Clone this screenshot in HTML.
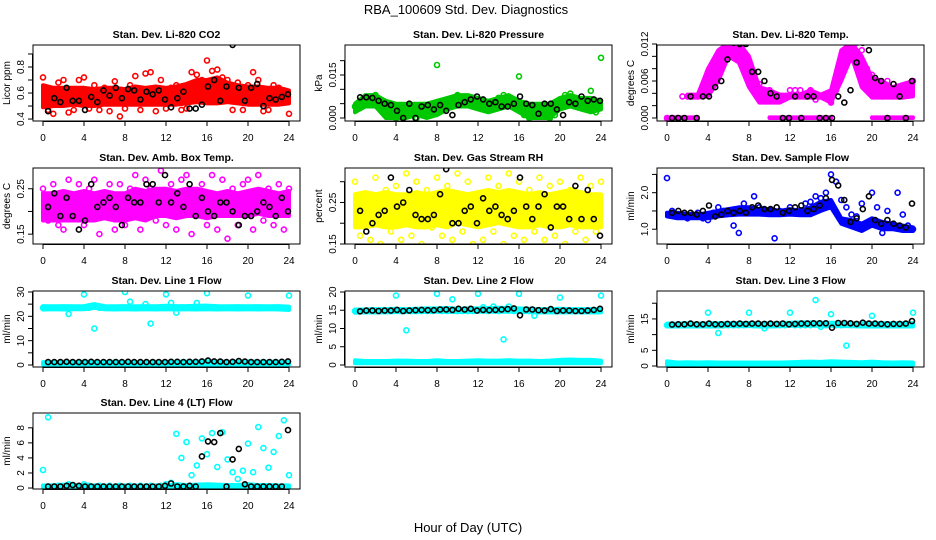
<!DOCTYPE html>
<html><head><meta charset="utf-8"><title>RBA_100609 Std. Dev. Diagnostics</title>
<style>
html,body{margin:0;padding:0;background:#fff;}
svg{display:block;font-family:"Liberation Sans",Arial,sans-serif;}
</style></head>
<body>
<svg id="chart" width="936" height="540" viewBox="0 0 936 540" xmlns="http://www.w3.org/2000/svg">
<rect x="0" y="0" width="936" height="540" fill="#fff"/>
<text x="466" y="14" font-size="13" text-anchor="middle">RBA_100609  Std. Dev. Diagnostics</text>
<text x="468" y="532" font-size="13" text-anchor="middle">Hour of Day (UTC)</text>
<g id="panels"></g>
</svg>
<script>
const hours = [0,1,2,3,4,5,6,7,8,9,10,11,12,13,14,15,16,17,18,19,20,21,22,23,24];

const co2Lo = [0.49,0.50,0.50,0.51,0.50,0.50,0.51,0.51,0.51,0.51,0.51,0.51,0.51,0.51,0.52,0.53,0.52,0.52,0.53,0.52,0.51,0.51,0.51,0.51,0.52];
const co2Hi = [0.66,0.64,0.64,0.64,0.64,0.63,0.64,0.64,0.63,0.65,0.64,0.65,0.64,0.65,0.67,0.70,0.70,0.72,0.68,0.66,0.65,0.65,0.64,0.64,0.62];
const co2Pts = [0.72,0.47,0.44,0.68,0.70,0.45,0.47,0.70,0.72,0.48,0.66,0.47,0.64,0.46,0.69,0.42,0.48,0.66,0.73,0.47,0.75,0.76,0.46,0.70,0.48,0.64,0.66,0.47,0.48,0.76,0.74,0.70,0.85,0.77,0.78,0.72,0.70,0.47,0.68,0.47,0.66,0.76,0.70,0.46,0.47,0.66,0.64,0.62,0.44];
const co2Blk = [0.46,0.56,0.53,0.64,0.54,0.54,0.47,0.57,0.53,0.62,0.58,0.64,0.56,0.63,0.62,0.55,0.61,0.59,0.62,0.55,0.49,0.56,0.61,0.48,0.48,0.51,0.65,0.70,0.54,0.65,0.97,0.64,0.54,0.64,0.67,0.50,0.56,0.55,0.57,0.59];

const presLo = [0.002,0.004,0.004,0.000,0.000,0.000,0.001,0.000,0.001,0.003,0.004,0.004,0.003,0.002,0.003,0.004,0.002,0.000,0.000,0.000,0.003,0.004,0.003,0.002,0.003];
const presHi = [0.005,0.008,0.008,0.006,0.005,0.005,0.005,0.005,0.006,0.007,0.008,0.008,0.007,0.006,0.007,0.008,0.006,0.005,0.005,0.005,0.007,0.008,0.007,0.007,0.006];
const presPts = [0.004,0.006,0.005,0.007,0.008,0.006,0.004,0.003,0.000,0.002,0.001,0.003,0.000,0.004,0.002,0.003,0.0185,0.005,0.006,0.007,0.008,0.005,0.007,0.006,0.004,0.005,0.003,0.006,0.007,0.008,0.005,0.006,0.0145,0.001,0.000,0.003,0.001,0.002,0.000,0.001,0.006,0.008,0.0085,0.007,0.006,0.005,0.0095,0.002,0.021];
const presBlk = [0.0072,0.0072,0.007,0.006,0.005,0.0045,0.0025,0.0,0.005,0.0,0.004,0.0045,0.003,0.0045,0.0025,0.001,0.0045,0.0055,0.0065,0.0075,0.0065,0.005,0.0055,0.004,0.004,0.005,0.0075,0.005,0.0045,0.0015,0.005,0.005,0.003,0.001,0.0055,0.005,0.0075,0.006,0.0065,0.006];

const tempLo = [null,null,0.0033,0.0033,0.0035,0.006,0.010,0.009,0.005,0.0025,0.0025,0.0025,0.0033,0.0033,0.0033,0.0033,0.0025,0.006,0.010,0.005,0.0033,0.0033,0.0033,0.0033,0.0035];
const tempHi = [null,null,0.0038,0.0038,0.008,0.011,0.0122,0.0122,0.010,0.005,0.0045,0.0038,0.0038,0.0038,0.0045,0.0038,0.0045,0.011,0.0122,0.010,0.0065,0.006,0.005,0.0055,0.006];
const tempZeroLo = [0,0,0,0,null,null,null,null,null,null,0,0,0,0,0,0,0,null,null,null,0,0,0,0,0];
const tempZeroHi = [0.0001,0.0001,0.0001,0.0001,null,null,null,null,null,null,0.0001,0.0001,0.0001,0.0001,0.0001,0.0001,0.0001,null,null,null,0.0001,0.0001,0.0001,0.0001,0.0001];
const tempPts = [0,0,0,0.0035,0.0035,0.0035,0.0035,0.0045,0.0075,0.008,0.0095,0.011,0.0122,0.012,0.0115,0.0105,0.008,0.0075,0.0055,0.004,0.0045,0.003,0.0035,0.0035,0.0045,0.0045,0.0045,0.0035,0.0045,0.003,0.0035,0.0035,0.0025,0.0045,0.007,0.0095,0.0115,0.0122,0.011,0.008,0.007,0.0055,0.0035,0.006,0.0035,0.0045,0.0035,0.0045,0.006];
const tempBlk = [0.0,0.0,0.0,0.0035,0.0,0.0035,0.0035,0.005,0.006,0.0095,0.0122,0.012,0.012,0.0075,0.0075,0.006,0.004,0.0035,0.0,0.0,0.0035,0.0,0.0035,0.0035,0.0,0.0,0.0,0.0035,0.0025,0.0045,0.009,0.0122,0.011,0.0065,0.006,0.0,0.0055,0.0035,0.0,0.006];

const ambLo = [0.18,0.18,0.18,0.18,0.18,0.18,0.185,0.18,0.18,0.185,0.18,0.19,0.19,0.185,0.19,0.19,0.185,0.19,0.19,0.19,0.19,0.195,0.19,0.19,0.19];
const ambHi = [0.24,0.24,0.245,0.24,0.245,0.24,0.245,0.24,0.24,0.25,0.245,0.25,0.25,0.245,0.25,0.25,0.245,0.24,0.245,0.24,0.245,0.25,0.245,0.24,0.245];
const ambPts = [0.25,0.18,0.26,0.17,0.16,0.27,0.19,0.26,0.17,0.25,0.27,0.15,0.24,0.26,0.16,0.26,0.17,0.25,0.28,0.16,0.27,0.25,0.18,0.29,0.17,0.26,0.16,0.27,0.28,0.15,0.24,0.26,0.17,0.28,0.16,0.27,0.14,0.25,0.17,0.26,0.27,0.16,0.28,0.18,0.25,0.17,0.26,0.16,0.25];
const ambBlk = [0.21,0.24,0.19,0.23,0.19,0.16,0.18,0.26,0.21,0.22,0.23,0.21,0.17,0.23,0.22,0.22,0.26,0.26,0.22,0.28,0.22,0.24,0.21,0.26,0.19,0.23,0.20,0.19,0.22,0.22,0.20,0.17,0.19,0.19,0.20,0.22,0.21,0.19,0.23,0.20];

const rhLo = [0.19,0.19,0.195,0.19,0.19,0.195,0.19,0.19,0.195,0.19,0.20,0.195,0.19,0.195,0.20,0.195,0.19,0.19,0.195,0.19,0.19,0.195,0.19,0.19,0.19];
const rhHi = [0.27,0.275,0.27,0.275,0.27,0.27,0.275,0.27,0.275,0.28,0.275,0.27,0.275,0.28,0.275,0.28,0.275,0.27,0.275,0.27,0.275,0.28,0.275,0.27,0.27];
const rhPts = [0.30,0.17,0.27,0.16,0.31,0.15,0.28,0.18,0.29,0.16,0.32,0.17,0.30,0.15,0.28,0.19,0.31,0.17,0.29,0.16,0.32,0.18,0.30,0.15,0.27,0.16,0.31,0.18,0.29,0.15,0.32,0.17,0.30,0.16,0.28,0.18,0.31,0.16,0.29,0.17,0.30,0.15,0.28,0.18,0.31,0.16,0.29,0.18,0.30];
const rhBlk = [0.23,0.18,0.20,0.22,0.23,0.31,0.24,0.25,0.28,0.22,0.21,0.21,0.22,0.27,0.33,0.20,0.20,0.23,0.24,0.20,0.26,0.23,0.24,0.22,0.21,0.23,0.31,0.24,0.21,0.24,0.27,0.19,0.24,0.24,0.21,0.29,0.21,0.28,0.21,0.17];

const flowLo = [1.35,1.3,1.3,1.3,1.3,1.35,1.38,1.4,1.4,1.4,1.38,1.38,1.4,1.38,1.38,1.5,1.6,1.15,1.05,0.95,1.1,1.0,1.0,0.95,0.95];
const flowHi = [1.45,1.45,1.42,1.4,1.45,1.5,1.55,1.6,1.6,1.55,1.55,1.5,1.55,1.5,1.6,1.75,1.8,1.3,1.25,1.15,1.3,1.2,1.15,1.1,1.05];
const flowPts = [2.4,1.5,1.4,1.35,1.3,1.4,1.45,1.3,1.25,1.45,1.6,1.5,1.5,1.1,0.9,1.7,1.55,1.9,1.6,1.5,1.45,0.75,1.5,1.45,1.6,1.45,1.5,1.7,1.75,1.9,1.85,2.0,2.5,2.3,1.8,1.6,1.4,1.35,1.7,1.1,2.0,1.6,0.9,1.5,1.05,2.0,1.4,1.1,1.0];
const flowBlk = [1.45,1.5,1.45,1.45,1.4,1.5,1.65,1.35,1.4,1.5,1.45,1.5,1.45,1.6,1.65,1.55,1.55,1.6,1.45,1.5,1.6,1.65,1.5,1.55,1.65,1.85,2.35,2.2,1.8,1.2,1.3,1.55,1.9,1.25,1.15,1.25,1.15,1.1,1.05,1.7];

const l1Lo = [22.8,22.9,22.8,22.9,22.9,23.5,22.9,22.8,22.9,22.8,22.9,22.8,22.9,22.8,22.9,22.8,22.9,22.8,22.9,22.8,22.9,22.8,22.9,22.8,22.6];
const l1Hi = [24.2,24.1,24.2,24.1,24.2,25.0,24.2,24.1,24.2,24.1,24.2,24.1,24.3,24.2,24.2,24.3,24.4,24.2,24.1,24.2,24.1,24.2,24.1,24.2,24.0];
const l1LowLo = [0.2,0.2,0.2,0.2,0.2,0.2,0.2,0.2,0.2,0.2,0.2,0.2,0.2,0.2,0.2,0.2,0.2,0.2,0.2,0.2,0.2,0.2,0.2,0.2,0.2];
const l1LowHi = [1.2,1.2,1.3,1.2,1.3,1.2,1.2,1.3,1.2,1.2,1.2,1.3,1.2,1.3,1.4,1.4,1.6,1.5,1.4,1.4,1.5,1.4,1.3,1.3,1.3];
const l1Pts = [23.5,23.5,23.5,23.5,23.5,21,23.5,23.5,29,23.5,15,23.5,23.5,23.5,23.5,23.5,30,26,23.5,23.5,25,17,23.5,23.5,29,25.5,21.5,23.5,23.5,23.5,25.5,23.5,29.5,23.5,23.5,23.5,23.5,23.5,23.5,23.5,28.5,23.5,23.5,23.5,23.5,23.5,23.5,23.5,28.5];
const l1Blk = [1.2,1.2,1.2,1.3,1.2,1.2,1.2,1.3,1.2,1.2,1.2,1.2,1.2,1.3,1.2,1.2,1.2,1.2,1.2,1.2,1.3,1.3,1.2,1.3,1.3,1.5,1.8,1.5,1.4,1.2,1.3,1.6,1.4,1.2,1.2,1.2,1.2,1.2,1.3,1.5];

const l2Lo = [14.3,14.4,14.4,14.4,14.5,14.5,14.5,14.6,14.6,14.6,14.5,14.6,14.6,14.6,14.6,14.6,14.6,14.5,14.4,14.4,14.4,14.4,14.4,14.4,14.4];
const l2Hi = [15.2,15.2,15.3,15.3,15.4,15.3,15.4,15.5,15.5,15.6,15.4,15.5,15.5,15.6,15.7,15.6,15.5,15.4,15.3,15.3,15.4,15.3,15.3,15.3,15.3];
const l2LowLo = [0.5,0.5,0.5,0.5,0.5,0.5,0.5,0.5,0.5,0.5,0.5,0.5,0.5,0.5,0.5,0.5,0.5,0.5,0.5,0.5,0.5,0.5,0.5,0.5,0.5];
const l2LowHi = [1.3,1.1,1.1,1.1,1.2,1.2,1.1,1.1,1.3,1.1,1.1,1.2,1.3,1.2,1.2,1.3,1.2,1.2,1.1,1.2,1.4,1.5,1.4,1.4,1.2];
const l2Pts = [14.8,14.8,14.8,14.8,14.8,14.8,14.8,14.8,19,14.8,9.5,14.8,14.8,14.8,14.8,14.8,19.5,14.8,14.8,18,14.8,14.8,14.8,14.8,19.5,15.8,14.8,16,14.8,7,16,14.8,19.5,14.8,14.8,13.5,14.8,14.8,14.8,14.8,18.5,14.8,14.8,14.8,14.8,14.8,14.8,14.8,19];
const l2Blk = [14.7,14.9,14.9,14.8,14.9,14.9,15.1,14.8,14.9,15.0,15.1,15.0,15.0,15.2,15.2,15.1,15.4,15.2,15.4,14.9,15.1,15.0,15.1,15.2,15.3,15.5,13.6,15.2,15.2,15.0,14.9,15.3,14.8,14.9,14.9,14.8,14.8,14.9,15.1,15.4];

const l3Lo = [12.6,12.6,12.6,12.6,12.6,12.6,12.7,12.7,12.7,12.6,12.6,12.7,12.8,12.8,12.8,12.8,12.8,12.7,12.7,12.6,12.6,12.6,12.6,12.6,12.6];
const l3Hi = [13.5,13.5,13.6,13.5,13.6,13.6,13.6,13.7,13.7,13.6,13.6,13.7,13.8,13.9,13.9,13.8,13.8,13.8,13.7,13.6,13.7,13.6,13.6,13.6,13.6];
const l3LowLo = [0.4,0.4,0.4,0.4,0.4,0.4,0.4,0.4,0.4,0.4,0.4,0.4,0.4,0.4,0.4,0.4,0.4,0.4,0.4,0.4,0.4,0.4,0.4,0.4,0.4];
const l3LowHi = [1.5,1.1,1.2,1.1,1.2,1.1,1.1,1.1,1.1,1.1,1.1,1.1,1.2,1.3,1.4,1.3,1.5,1.4,1.3,1.2,1.4,1.2,1.1,1.2,1.1];
const l3Pts = [13,13,13,13,13,13,13,13,17,13,10.5,13,13,13,13,13,17,13,13,12,13,13,13,13,17,13,13,13,13,21,12.5,13,16.5,13,13,6.5,13,13,13,13,16,13,13,13,13,13,13,13,17];
const l3Blk = [13.2,13.3,13.3,13.5,13.3,13.3,13.5,13.3,13.3,13.4,13.4,13.5,13.4,13.5,13.5,13.4,13.5,13.4,13.5,13.3,13.4,13.5,13.5,13.6,13.6,13.6,12.2,13.7,13.7,13.6,13.4,13.8,13.5,13.5,13.4,13.3,13.4,13.4,13.5,14.3];

const l4Lo = [0.0,0.0,0.0,0.0,0.0,0.0,0.0,0.0,0.0,0.0,0.0,0.0,0.0,0.0,0.0,0.0,0.0,0.0,0.0,0.0,0.0,0.0,0.0,0.0,0.0];
const l4Hi = [0.35,0.35,0.45,0.4,0.4,0.3,0.3,0.3,0.3,0.3,0.3,0.3,0.35,0.5,0.4,0.45,0.5,0.45,0.4,0.4,0.5,0.4,0.4,0.35,0.35];
const l4Pts = [2.4,9.4,0.2,0.3,0.2,0.5,0.3,0.2,0.5,0.3,0.2,0.3,0.2,0.3,0.2,0.3,0.2,0.3,0.2,0.3,0.2,0.3,0.2,0.3,0.5,0.7,7.2,4.0,6.1,1.7,3.0,6.6,4.5,7.3,2.8,7.4,3.8,2.1,1.2,2.3,5.9,2.1,8.1,5.3,2.7,4.8,6.9,9.0,1.7];
const l4Blk = [0.2,0.2,0.2,0.3,0.4,0.3,0.2,0.2,0.2,0.2,0.2,0.2,0.2,0.2,0.2,0.2,0.2,0.2,0.2,0.3,0.6,0.2,0.2,0.3,0.2,4.2,6.2,6.1,7.3,0.2,3.8,5.2,0.5,0.2,0.2,0.2,0.2,0.2,0.2,7.7];

const panels = [
 {name:'co2',title:'Stan. Dev. Li-820 CO2',ylab:'Licor ppm',col:0,row:0,color:'#ff0000',ymin:0.385,ymax:0.969,ticks:[0.4,0.5,0.6,0.7,0.8,0.9],labels:[0.4,0.6,0.8],fmt:1,bands:[[co2Lo,co2Hi]],pts:co2Pts,blk:co2Blk},
 {name:'pressure',title:'Stan. Dev. Li-820 Pressure',ylab:'kPa',col:1,row:0,color:'#00c800',ymin:-0.00105,ymax:0.02546,ticks:[0,0.005,0.01,0.015,0.02],labels:[0,0.015],fmt:3,bands:[[presLo,presHi]],pts:presPts,blk:presBlk},
 {name:'temp',title:'Stan. Dev. Li-820 Temp.',ylab:'degrees C',col:2,row:0,color:'#ff00ff',ymin:-0.00049,ymax:0.01184,ticks:[0,0.002,0.004,0.006,0.008,0.01,0.012],labels:[0,0.006,0.012],fmt:3,bands:[[tempLo,tempHi],[tempZeroLo,tempZeroHi]],pts:tempPts,blk:tempBlk},
 {name:'amb-box-temp',title:'Stan. Dev. Amb. Box Temp.',ylab:'degrees C',col:0,row:1,color:'#ff00ff',ymin:0.1283,ymax:0.2957,ticks:[0.15,0.2,0.25],labels:[0.15,0.25],fmt:2,bands:[[ambLo,ambHi]],pts:ambPts,blk:ambBlk},
 {name:'gas-rh',title:'Stan. Dev. Gas Stream RH',ylab:'percent',col:1,row:1,color:'#ffff00',ymin:0.15,ymax:0.333,ticks:[0.15,0.2,0.25,0.3],labels:[0.15,0.25],fmt:2,bands:[[rhLo,rhHi]],pts:rhPts,blk:rhBlk},
 {name:'sample-flow',title:'Stan. Dev. Sample Flow',ylab:'ml/min',col:2,row:1,color:'#0000ff',ymin:0.595,ymax:2.676,ticks:[1,1.5,2,2.5],labels:[1,2],fmt:1,bands:[[flowLo,flowHi]],pts:flowPts,blk:flowBlk},
 {name:'line1-flow',title:'Stan. Dev. Line 1 Flow',ylab:'ml/min',col:0,row:2,color:'#00ffff',ymin:-0.82,ymax:30.4,ticks:[0,5,10,15,20,25,30],labels:[0,10,20,30],fmt:0,bands:[[l1Lo,l1Hi],[l1LowLo,l1LowHi]],pts:l1Pts,blk:l1Blk},
 {name:'line2-flow',title:'Stan. Dev. Line 2 Flow',ylab:'ml/min',col:1,row:2,color:'#00ffff',ymin:-0.55,ymax:20.27,ticks:[0,5,10,15,20],labels:[0,5,10,15,20],fmt:0,bands:[[l2Lo,l2Hi],[l2LowLo,l2LowHi]],pts:l2Pts,blk:l2Blk},
 {name:'line3-flow',title:'Stan. Dev. Line 3 Flow',ylab:'ml/min',col:2,row:2,color:'#00ffff',ymin:-0.32,ymax:23.9,ticks:[0,5,10,15,20],labels:[0,5,15],fmt:0,bands:[[l3Lo,l3Hi],[l3LowLo,l3LowHi]],pts:l3Pts,blk:l3Blk},
 {name:'line4-flow',title:'Stan. Dev. Line 4 (LT) Flow',ylab:'ml/min',col:0,row:3,color:'#00ffff',ymin:-0.13,ymax:9.97,ticks:[0,2,4,6,8],labels:[0,2,4,6,8],fmt:0,bands:[[l4Lo,l4Hi]],pts:l4Pts,blk:l4Blk}
];
const xTicks = [0,4,8,12,16,20,24];
const rowTops = [45,168,291,413];

const NS = 'http://www.w3.org/2000/svg';
const root = document.getElementById('panels');
function mk(tag, attrs, parent){
  const e = document.createElementNS(NS, tag);
  for (const k in attrs) e.setAttribute(k, attrs[k]);
  parent.appendChild(e);
  return e;
}

panels.forEach(p => {
  const L = 33 + 312*p.col, W = 267, T = rowTops[p.row], H = 76, B = T + H;
  const xs = h => L + 10 + h * (246/24);
  const ys = v => B - (v - p.ymin) / (p.ymax - p.ymin) * H;

  const g = mk('g', {}, root);
  
  

  const clipId = 'clip-' + p.name;
  const cp = mk('clipPath', {id: clipId}, g);
  mk('rect', {x: L, y: T, width: W, height: H}, cp);

  const marks = mk('g', {'clip-path': 'url(#' + clipId + ')'}, g);
  
  

  p.bands.forEach(([lo, hi]) => {
    let seg = [];
    const flush = () => {
      if (seg.length) {
        const top = seg.map(i => xs(hours[i]).toFixed(1) + ',' + ys(hi[i]).toFixed(1));
        const bot = seg.slice().reverse().map(i => xs(hours[i]).toFixed(1) + ',' + ys(lo[i]).toFixed(1));
        const poly = mk('polygon', {points: top.concat(bot).join(' '), fill: p.color, stroke: p.color, 'stroke-width': 4, 'stroke-linejoin': 'round'}, marks);
        
        
      }
      seg = [];
    };
    hours.forEach((h, i) => { if (lo[i] === null || hi[i] === null) flush(); else seg.push(i); });
    flush();
  });

  const n = p.pts.length;
  p.pts.forEach((v, i) => {
    const c = mk('circle', {cx: xs(i * 24 / (n - 1)).toFixed(1), cy: ys(v).toFixed(1), r: 2.5, fill: 'none', stroke: p.color, 'stroke-width': 1.6}, marks);
    
    
  });

  const m = p.blk.length;
  p.blk.forEach((v, i) => {
    const c = mk('circle', {cx: xs(0.5 + i * 23.4 / (m - 1)).toFixed(1), cy: ys(v).toFixed(1), r: 2.5, fill: 'none', stroke: '#000', 'stroke-width': 1.6}, marks);
    
    
  });

  const fr = mk('rect', {x: L, y: T, width: W, height: H, fill: 'none', stroke: '#000', 'stroke-width': 1}, g);
  
  

  const tt = mk('text', {x: L + W/2, y: T - 7, 'font-size': 10.5, 'font-weight': 'bold', 'text-anchor': 'middle'}, g);
  tt.textContent = p.title;
  
  

  const xa = mk('g', {}, g);
  
  
  mk('line', {x1: xs(0), x2: xs(24), y1: B + 0.5, y2: B + 0.5, stroke: '#000'}, xa);
  xTicks.forEach(t => {
    mk('line', {x1: xs(t), x2: xs(t), y1: B, y2: B + 5, stroke: '#000'}, xa);
    const lb = mk('text', {x: xs(t), y: B + 20, 'font-size': 10, 'text-anchor': 'middle'}, xa);
    lb.textContent = t;
    
    
  });

  const ya = mk('g', {}, g);
  
  
  const yt0 = ys(p.ticks[0]), yt1 = ys(p.ticks[p.ticks.length - 1]);
  mk('line', {x1: L - 0.5, x2: L - 0.5, y1: yt0, y2: yt1, stroke: '#000'}, ya);
  p.ticks.forEach(t => {
    mk('line', {x1: L - 5, x2: L, y1: ys(t), y2: ys(t), stroke: '#000'}, ya);
  });
  p.labels.forEach(t => {
    const y = ys(t);
    const lb = mk('text', {x: L - 9, y: y, 'font-size': 10, 'text-anchor': 'middle', transform: 'rotate(-90 ' + (L - 9) + ' ' + y + ')'}, ya);
    lb.textContent = t.toFixed(p.fmt);
    
    
  });
  const yl = mk('text', {x: L - 23, y: T + H/2, 'font-size': 10, 'text-anchor': 'middle', transform: 'rotate(-90 ' + (L - 23) + ' ' + (T + H/2) + ')'}, ya);
  yl.textContent = p.ylab;
  
  
});
</script>
</body></html>
